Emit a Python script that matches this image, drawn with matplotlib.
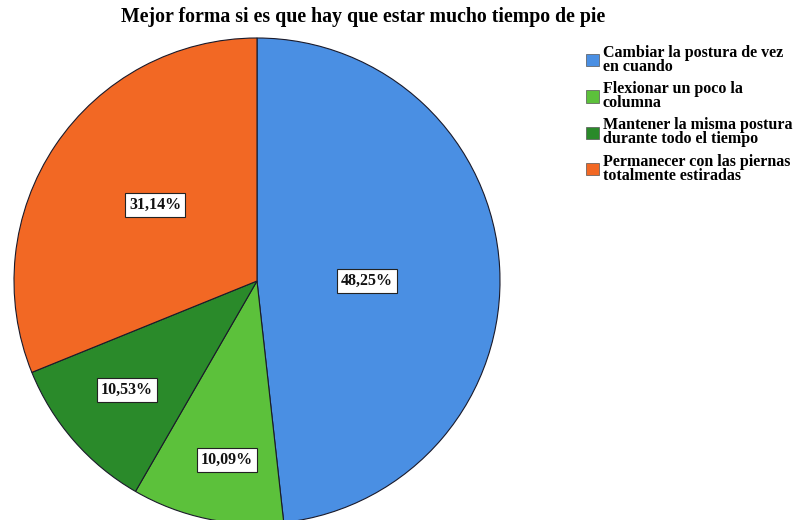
import matplotlib.pyplot as plt
from matplotlib.patches import Patch

categories = [
    "Cambiar la postura de vez\nen cuando",
    "Flexionar un poco la\ncolumna",
    "Mantener la misma postura\ndurante todo el tiempo",
    "Permanecer con las piernas\ntotalmente estiradas",
]
values = [48.25, 10.09, 10.53, 31.14]
labels = ["48,25%", "10,09%", "10,53%", "31,14%"]
colors = ["#4a8fe3", "#5cc13b", "#2a8a2a", "#f26824"]

SERIF = ["Liberation Serif", "DejaVu Serif"]

fig = plt.figure(figsize=(8.04, 5.2), dpi=100, facecolor="white")
# axes in pixel units over the whole figure (y grows downward)
ax = fig.add_axes([0, 0, 1, 1])

cx, cy, r = 257, 281, 243
# y axis is inverted: 270 deg is the top of the screen and
# counterclock=True runs clockwise on screen
ax.pie(values, colors=colors, startangle=270, counterclock=True,
       center=(cx, cy), radius=r, frame=True,
       wedgeprops=dict(edgecolor="#1a1a2a", linewidth=0.8))
ax.set_xlim(0, 804)
ax.set_ylim(520, 0)
ax.set_aspect("equal")
ax.set_axis_off()

label_pos = [(367, 281), (227, 460), (127, 390), (155, 205)]
for (x, y), t in zip(label_pos, labels):
    ax.text(x, y, t, ha="center", va="center", fontsize=11.5, weight="bold",
            family=SERIF, color="#111",
            bbox=dict(boxstyle="square,pad=0.25", facecolor="white",
                      edgecolor="#222", linewidth=0.8))

fig.text(363 / 804, 1 - 17 / 520, "Mejor forma si es que hay que estar mucho tiempo de pie",
         ha="center", va="center", fontsize=14.3, weight="bold", family=SERIF)

handles = [Patch(facecolor=c, edgecolor="#555", linewidth=0.5) for c in colors]
leg = fig.legend(handles, categories, loc="upper left",
                 bbox_to_anchor=(586 / 804, 1 - 45 / 520), frameon=False,
                 prop=dict(family=SERIF, weight="bold", size=11.5),
                 handlelength=0.8, handleheight=0.8, handletextpad=0.25,
                 labelspacing=0.4, borderaxespad=0, borderpad=0)
for t in leg.get_texts():
    t.set_linespacing(0.82)

fig.savefig("out.png", dpi=100, facecolor="white")
